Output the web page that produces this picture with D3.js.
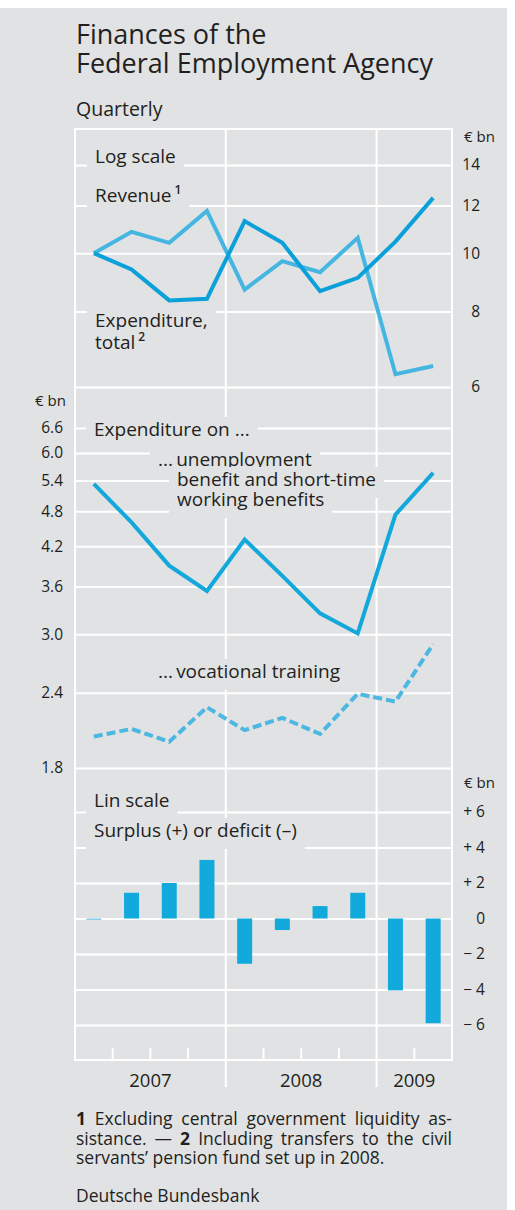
<!DOCTYPE html>
<html lang="en">
<head>
<meta charset="utf-8">
<script src="https://d3js.org/d3.v7.min.js"></script>
<style type="text/css">
body {
	margin: 0;
	background: #ffffff;
}
svg text {
	font-family: "Open Sans", sans-serif;
	fill: #231f20;
}
.grid line {
	stroke: #ffffff;
	stroke-width: 2;
}
.grid path {
	display: none;
}
.ticks path, .ticks line {
	display: none;
}
.ticks text {
	font-size: 15.5px;
}
</style>
</head>
<body>
<script type="text/javascript">

// Quarterly data, 2007 Q1 .. 2009 Q2
var quarters = ["2007 Q1","2007 Q2","2007 Q3","2007 Q4","2008 Q1","2008 Q2","2008 Q3","2008 Q4","2009 Q1","2009 Q2"];
var years = ["2007", "2008", "2009"];
var yearStart = [0, 4, 8, 10];

// € bn, log scale
var revenue     = [10.0, 10.85, 10.4, 11.75, 8.7, 9.7, 9.3, 10.6, 6.3, 6.5];
var expenditure = [10.0, 9.4, 8.35, 8.4, 11.3, 10.4, 8.65, 9.1, 10.45, 12.35];
// expenditure on ...
var unemployment = [5.33, 4.6, 3.9, 3.54, 4.31, 3.75, 3.25, 3.01, 4.74, 5.56];
var vocational   = [2.03, 2.09, 1.99, 2.27, 2.08, 2.18, 2.05, 2.39, 2.32, 2.89];
// € bn, lin scale
var balance = [-0.08, 1.45, 2.0, 3.3, -2.55, -0.65, 0.7, 1.45, -4.05, -5.9];

var topTicks = [6, 8, 10, 12, 14];
var midTicks = [1.8, 2.4, 3.0, 3.6, 4.2, 4.8, 5.4, 6.0, 6.6];
var botTicks = [-6, -4, -2, 0, 2, 4, 6];

var width = 515;
var height = 1210;
var left = 75, right = 452;
var plotTop = 129, plotBottom = 1060;

var svg = d3.select("body")
	.append("svg")
	.attr("width", width)
	.attr("height", height);

// gray panel
svg.append("rect")
	.attr("x", 0).attr("y", 8)
	.attr("width", 507).attr("height", height - 8)
	.attr("fill", "#e1e2e4");

var x = d3.scaleLinear().domain([0, quarters.length]).range([left, right]);
var yTop = d3.scaleLog().domain([6, 14]).range([387, 165]);
var yMid = d3.scaleLog().domain([1.8, 6.6]).range([768, 428]);
var yBot = d3.scaleLinear().domain([-6, 6]).range([1025, 812]);

function cx(d, i) { return x(i + 0.5); }

// frame and gridlines
var frame = svg.append("g");
[plotTop, plotBottom].forEach(function(y) {
	frame.append("line")
		.attr("x1", left - 1).attr("x2", right + 1)
		.attr("y1", y).attr("y2", y)
		.attr("stroke", "#fff").attr("stroke-width", 2);
});
[left, right].forEach(function(xx) {
	frame.append("line")
		.attr("x1", xx).attr("x2", xx)
		.attr("y1", plotTop).attr("y2", plotBottom)
		.attr("stroke", "#fff").attr("stroke-width", 2);
});
yearStart.slice(1, 3).forEach(function(q) {
	frame.append("line")
		.attr("x1", x(q)).attr("x2", x(q))
		.attr("y1", plotTop).attr("y2", 1087)
		.attr("stroke", "#fff").attr("stroke-width", 2);
});
// quarter ticks at the bottom
d3.range(1, quarters.length).filter(function(q) { return q != 4 && q != 8; }).forEach(function(q) {
	frame.append("line")
		.attr("x1", x(q)).attr("x2", x(q))
		.attr("y1", 1048).attr("y2", plotBottom)
		.attr("stroke", "#fff").attr("stroke-width", 2);
});

svg.append("g").attr("class", "grid")
	.attr("transform", "translate(" + left + ",0)")
	.call(d3.axisRight(yTop).tickValues(topTicks).tickSize(right - left).tickFormat(""));
svg.append("g").attr("class", "grid")
	.attr("transform", "translate(" + left + ",0)")
	.call(d3.axisRight(yMid).tickValues(midTicks).tickSize(right - left).tickFormat(""));
svg.append("g").attr("class", "grid")
	.attr("transform", "translate(" + left + ",0)")
	.call(d3.axisRight(yBot).tickValues(botTicks).tickSize(right - left).tickFormat(""));

// axis labels
svg.append("g").attr("class", "ticks")
	.attr("transform", "translate(480,0)")
	.call(d3.axisLeft(yTop).tickValues(topTicks).tickSize(0).tickPadding(0).tickFormat(d3.format("d")));
svg.append("g").attr("class", "ticks")
	.attr("transform", "translate(63,0)")
	.call(d3.axisLeft(yMid).tickValues(midTicks).tickSize(0).tickPadding(0).tickFormat(d3.format(".1f")));
svg.append("g").attr("class", "ticks")
	.attr("transform", "translate(485,0)")
	.call(d3.axisLeft(yBot).tickValues(botTicks).tickSize(0).tickPadding(0)
		.tickFormat(function(d) { return d > 0 ? "+ " + d : d < 0 ? "\u2212 " + (-d) : "0"; }));

svg.append("text").attr("x", 464).attr("y", 142).style("font-size", "15px").text("€ bn");
svg.append("text").attr("x", 35).attr("y", 406).style("font-size", "15px").text("€ bn");
svg.append("text").attr("x", 464).attr("y", 788).style("font-size", "15px").text("€ bn");

// labels with a box that hides the grid behind them
var labelLayer = svg.append("g");
function label(tx, ty, str, sup) {
	var g = labelLayer.append("g");
	var r = g.append("rect").attr("fill", "#e1e2e4");
	var t = g.append("text")
		.attr("x", tx).attr("y", ty)
		.style("font-size", "19px")
		.text(str);
	if (sup) {
		t.append("tspan").attr("dx", 3).attr("dy", -8).style("font-size", "12px").style("font-weight", "600").text(sup);
	}
	var b = t.node().getBBox();
	r.attr("x", tx - 8).attr("y", ty - 19)
		.attr("width", b.width + 16).attr("height", 31);
}
label(95, 163, "Log scale");
label(95, 202, "Revenue", "1");
label(95, 327, "Expenditure,");
label(95, 349, "total", "2");
label(94, 436, "Expenditure on ...");
label(158, 466, "...\u2009unemployment");
label(177, 486, "benefit and short-time");
label(177, 506, "working benefits");
label(158, 678, "...\u2009vocational training");
label(94, 807, "Lin scale");
label(94, 837, "Surplus (+) or deficit (\u2013)");

// lines
var lineTop = d3.line().x(cx).y(function(d) { return yTop(d); });
var lineMid = d3.line().x(cx).y(function(d) { return yMid(d); });

svg.append("path").datum(revenue)
	.attr("d", lineTop)
	.attr("fill", "none").attr("stroke", "#45b5e1").attr("stroke-width", 4)
	.attr("stroke-linejoin", "miter");
svg.append("path").datum(expenditure)
	.attr("d", lineTop)
	.attr("fill", "none").attr("stroke", "#0aa0d9").attr("stroke-width", 4)
	.attr("stroke-linejoin", "miter");
svg.append("path").datum(unemployment)
	.attr("d", lineMid)
	.attr("fill", "none").attr("stroke", "#12a8dc").attr("stroke-width", 4)
	.attr("stroke-linejoin", "miter");
svg.append("path").datum(vocational)
	.attr("d", lineMid)
	.attr("fill", "none").attr("stroke", "#4cb8e2").attr("stroke-width", 4)
	.attr("stroke-dasharray", "9,4");

// bars
svg.append("g").selectAll("rect")
	.data(balance)
	.enter()
	.append("rect")
	.attr("x", function(d, i) { return cx(d, i) - 7.5; })
	.attr("width", 15)
	.attr("y", function(d) { return yBot(Math.max(0, d)); })
	.attr("height", function(d) { return Math.max(1, Math.abs(yBot(d) - yBot(0))); })
	.attr("fill", function(d) { return Math.abs(d) < 0.2 ? "#7ccbea" : "#12aadc"; });

// year labels
svg.append("g").selectAll("text")
	.data(years)
	.enter()
	.append("text")
	.attr("x", function(d, i) { return (x(yearStart[i]) + x(yearStart[i + 1])) / 2; })
	.attr("y", 1087)
	.attr("text-anchor", "middle")
	.style("font-size", "18.5px")
	.text(function(d) { return d; });

// title
svg.append("text").attr("x", 76).attr("y", 44).style("font-size", "27px").text("Finances of the");
svg.append("text").attr("x", 76).attr("y", 73).style("font-size", "27px").text("Federal Employment Agency");
svg.append("text").attr("x", 76).attr("y", 116).style("font-size", "19.5px").text("Quarterly");

// footnotes
var notes = [
	[["1", true], [" Excluding central government liquidity as-", false]],
	[["sistance. \u2014 ", false], ["2", true], [" Including transfers to the civil", false]],
	[["servants\u2019 pension fund set up in 2008.", false]]
];
notes.forEach(function(parts, i) {
	var t = svg.append("text")
		.attr("x", 76).attr("y", 1125 + i * 19.5)
		.style("font-size", "17.5px");
	parts.forEach(function(p) {
		t.append("tspan").style("font-weight", p[1] ? "bold" : "normal").text(p[0]);
	});
	if (i < 2) {
		var w = t.node().getComputedTextLength();
		var spaces = parts.map(function(p) { return p[0]; }).join("").split(" ").length - 1;
		t.style("word-spacing", ((right - 76 - w) / spaces) + "px");
	}
});
svg.append("text").attr("x", 76).attr("y", 1202).style("font-size", "17.5px").text("Deutsche Bundesbank");

</script>
</body>
</html>
